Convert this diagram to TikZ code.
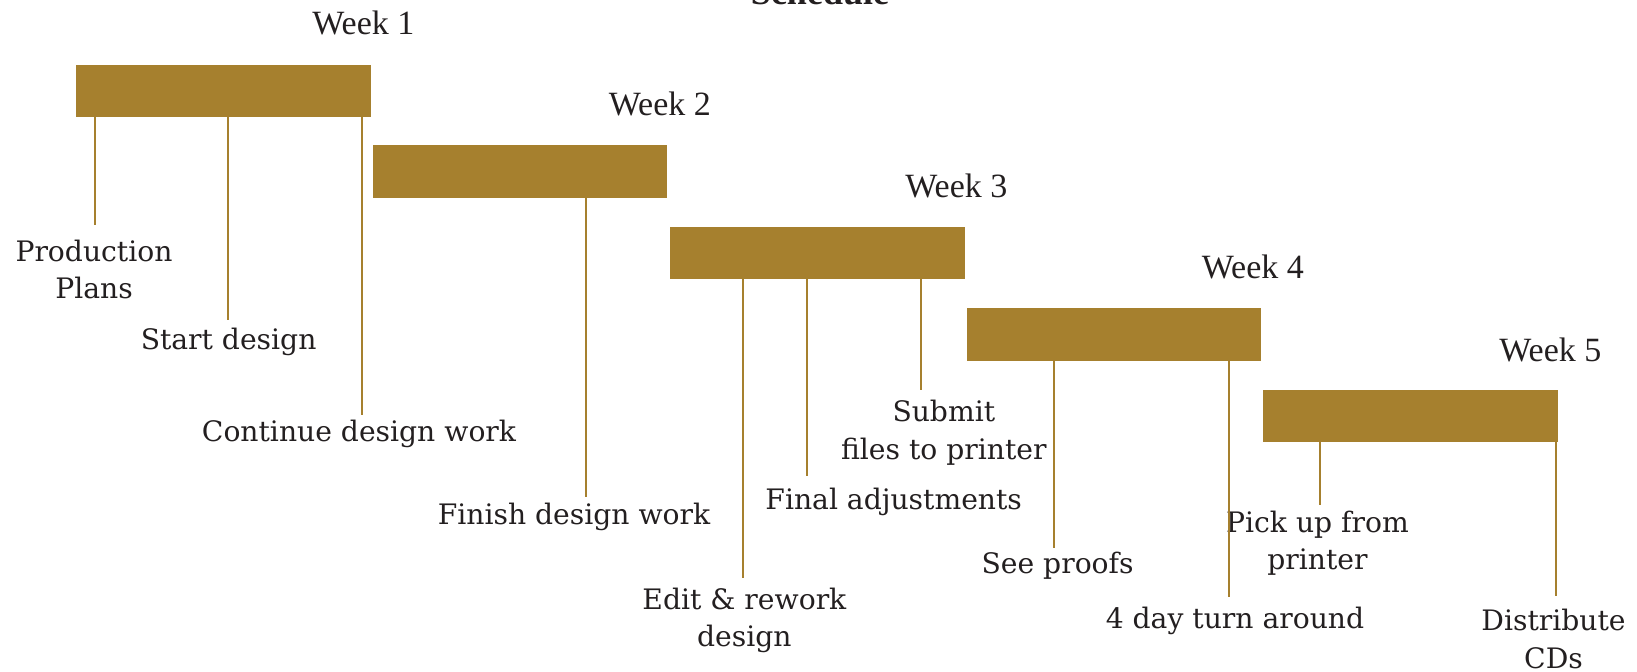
\documentclass[tikz,border=0pt]{standalone}
\usepackage{fontspec}
\setmainfont{DejaVu Serif}
\newfontfamily\weekfont{Liberation Serif}
\definecolor{barcol}{HTML}{A6802E}
\definecolor{txtcol}{HTML}{231F20}
\begin{document}
\begin{tikzpicture}[x=0.5pt,y=-0.5pt,
  bar/.style={fill=barcol,draw=none,minimum width=147.2pt,minimum height=26.2pt,inner sep=0pt,outer sep=0pt},
  weeklab/.style={font=\weekfont\fontsize{17}{20}\selectfont,text=txtcol,inner sep=0pt},
  lab/.style={font=\fontsize{14.1}{18.8}\selectfont,text=txtcol,align=center,inner sep=0pt},
  tick/.style={draw=barcol,line width=1pt}]
\useasboundingbox (0,0) rectangle (1637,672);
% title (cut off at top, as in the reference)
\node[font=\weekfont\bfseries\fontsize{18}{20}\selectfont,text=txtcol,anchor=base,inner sep=0pt] (title) at (820,5) {Schedule};
% bars
\node[bar] (bar1) at (223.4,90.8) {};
\node[bar] (bar2) at (519.9,171.7) {};
\node[bar] (bar3) at (817.4,253.1) {};
\node[bar] (bar4) at (1113.9,334.6) {};
\node[bar] (bar5) at (1410.4,416) {};
% week labels
\node[weeklab] (w1) at (363.3,23) {Week 1};
\node[weeklab] (w2) at (659.8,104.4) {Week 2};
\node[weeklab] (w3) at (956.3,185.8) {Week 3};
\node[weeklab] (w4) at (1252.8,267.3) {Week 4};
\node[weeklab] (w5) at (1550.3,349.7) {Week 5};
% task labels
\node[lab] (l11) at (94,269.5) {Production\\Plans};
\node[lab] (l12) at (228.6,342.4) {Start design};
\node[lab] (l13) at (359,434.3) {Continue design work};
\node[lab] (l21) at (574,516.8) {Finish design work};
\node[lab] (l31) at (744.4,620.5) {Edit \& rework\\design};
\node[lab] (l32) at (893.7,502.2) {Final adjustments};
\node[lab] (l33) at (943.8,432.7) {Submit\\files to printer};
\node[lab] (l41) at (1057.6,566) {See proofs};
\node[lab] (l42) at (1235,621) {4 day turn around};
\node[lab] (l51) at (1317.5,543.4) {Pick up from\\printer};
\node[lab] (l52) at (1553.5,639) {Distribute\\CDs};
% connector end points
\coordinate (e11) at (95,225.5);
\coordinate (e12) at (227.6,320.5);
\coordinate (e13) at (362.3,415.5);
\coordinate (e21) at (585.7,497);
\coordinate (e31) at (743.3,578.4);
\coordinate (e32) at (807,476);
\coordinate (e33) at (920.8,390.5);
\coordinate (e41) at (1054.4,548);
\coordinate (e42) at (1228.8,597.2);
\coordinate (e51) at (1319.6,505.3);
\coordinate (e52) at (1555.6,596.1);
% connectors
\draw[tick] (bar1.south -| e11) -- (e11);
\draw[tick] (bar1.south -| e12) -- (e12);
\draw[tick] (bar1.south -| e13) -- (e13);
\draw[tick] (bar2.south -| e21) -- (e21);
\draw[tick] (bar3.south -| e31) -- (e31);
\draw[tick] (bar3.south -| e32) -- (e32);
\draw[tick] (bar3.south -| e33) -- (e33);
\draw[tick] (bar4.south -| e41) -- (e41);
\draw[tick] (bar4.south -| e42) -- (e42);
\draw[tick] (bar5.south -| e51) -- (e51);
\draw[tick] (bar5.south -| e52) -- (e52);
\end{tikzpicture}
\end{document}
